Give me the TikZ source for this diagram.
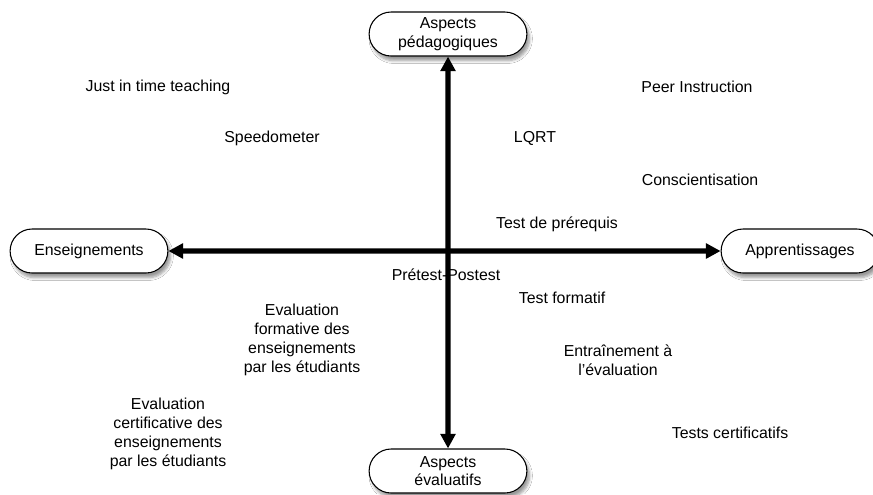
\documentclass[tikz,border=0pt]{standalone}
\usepackage{fontspec}
\setmainfont{Liberation Sans}
\usepackage{tikz}
\usetikzlibrary{arrows.meta}
\usetikzlibrary{shapes}
\usetikzlibrary{shadows.blur}
\usetikzlibrary{positioning}

\begin{document}
\begin{tikzpicture}[x=0.75pt,y=-0.75pt]
    \useasboundingbox (0,0) rectangle (873,494);
    \fill[white] (0,0) rectangle (873,494);
    \begin{scope}[every node/.style={rounded rectangle,draw,thick,fill=white,
        blur shadow={shadow xshift=2pt,shadow yshift=-3.5pt,shadow blur steps=6},
        minimum width=125pt,minimum height=33pt,align=center,
        font=\fontsize{11.9}{14}\selectfont}]
      \node (ped) at (448,34) {Aspects\\p\'edagogiques};
      \node (ens) at (89,251) {Enseignements};
      \node (app) at (800,251) {Apprentissages};
      \node (eval) at (448,471) {Aspects\\\'evaluatifs};
    \end{scope}
    \begin{scope}[every edge/.style={draw=black,line width=4pt,
        {Triangle[length=11pt,width=11pt]}-{Triangle[length=11pt,width=11pt]}}]
      \path (ens) edge (app);
      \path (ped) edge (eval);
    \end{scope}
    \begin{scope}[every node/.style={align=center,font=\fontsize{11.9}{14.3}\selectfont}]
      \node (jit) at (158,87) {Just in time teaching};
      \node (peer) at (697,87) {Peer Instruction};
      \node (speed) at (272,138) {Speedometer};
      \node (lqrt) at (535,138) {LQRT};
      \node (consc) at (700,180) {Conscientisation};
      \node (prereq) at (557,224) {Test de pr\'erequis};
      \node (prepost) at (446,275) {Pr\'etest-Postest};
      \node (form) at (562,298) {Test formatif};
      \node (evform) at (302,340) {Evaluation\\formative des\\enseignements\\par les \'etudiants};
      \node (entr) at (618,360) {Entra\^inement \`a\\l{\char"0027}\'evaluation};
      \node (evcert) at (168,434) {Evaluation\\certificative des\\enseignements\\par les \'etudiants};
      \node (tcert) at (730,433) {Tests certificatifs};
    \end{scope}
\end{tikzpicture}
\end{document}
